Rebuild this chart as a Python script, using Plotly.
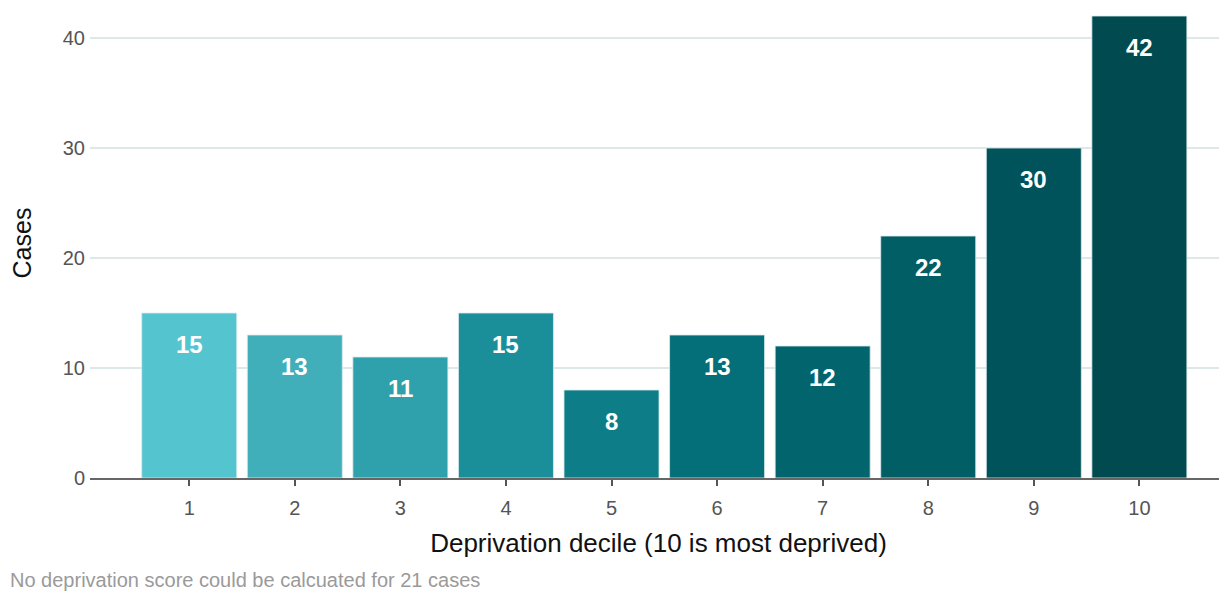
import plotly.graph_objects as go

deciles = [1, 2, 3, 4, 5, 6, 7, 8, 9, 10]
cases = [15, 13, 11, 15, 8, 13, 12, 22, 30, 42]
colors = ["#54C4CF", "#41AFBA", "#2FA1AC", "#1B8F99", "#0D7D87", "#046F78",
          "#02656E", "#005E64", "#00535A", "#004A50"]
y_ticks = [0, 10, 20, 30, 40]
caption = "No deprivation score could be calcuated for 21 cases"

FONT = "Liberation Sans, Arial"

fig = go.Figure()
fig.add_trace(go.Bar(
    x=deciles, y=cases,
    marker=dict(color=colors, line=dict(color="rgba(220,235,238,0.8)", width=1)),
    width=0.9, hoverinfo="x+y",
))
for xv, yv in zip(deciles, cases):
    fig.add_annotation(x=xv, y=yv, text=f"<b>{yv}</b>", showarrow=False,
                       yshift=-31, font=dict(color="white", size=24, family=FONT))

fig.add_annotation(xref="paper", yref="paper", x=-82/1137, y=-102/470,
                   xanchor="left", yanchor="middle", showarrow=False,
                   text=caption,
                   font=dict(color="#9a9a9a", size=20, family=FONT))

fig.update_layout(
    width=1227, height=594,
    margin=dict(l=82, r=8, t=0, b=124),
    plot_bgcolor="white", paper_bgcolor="white",
    showlegend=False,
    font=dict(family=FONT, color="#555555"),
    xaxis=dict(range=[0.06, 10.83], tickvals=deciles, automargin=False,
               ticks="outside", ticklen=6, tickcolor="#555555", tickwidth=1.5,
               tickfont=dict(size=20, color="#555555"), ticklabelstandoff=5,
               showline=True, linecolor="#666666", linewidth=1.5,
               showgrid=False, zeroline=False,
               title=dict(text="Deprivation decile (10 is most deprived)",
                          font=dict(size=26, color="#111111"), standoff=16)),
    yaxis=dict(range=[0, 42.73], tickvals=y_ticks, automargin=False,
               tickfont=dict(size=20, color="#555555"), ticks="",
               ticklabelstandoff=4,
               showgrid=True, gridcolor="#dde8e8", gridwidth=1.5,
               zeroline=False, showline=False,
               title=dict(text="Cases", font=dict(size=25, color="#111111"), standoff=24)),
)
fig.write_html("out.html")
